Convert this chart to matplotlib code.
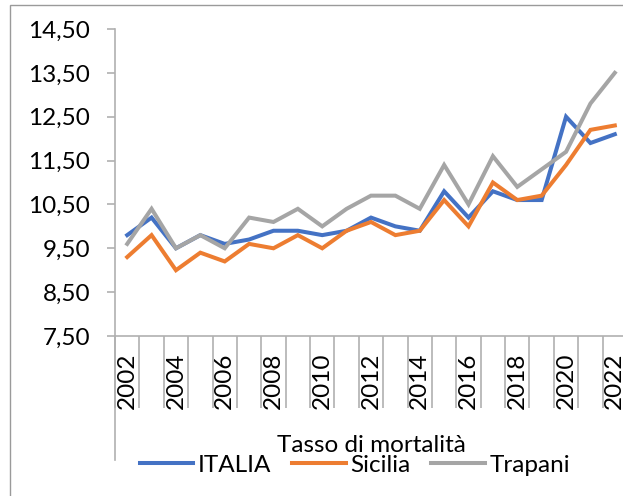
import matplotlib
matplotlib.use("Agg")
import matplotlib.pyplot as plt
from matplotlib.lines import Line2D
from matplotlib.patches import Rectangle
import numpy as np

years = list(range(2002, 2023))
italia = [9.8, 10.2, 9.5, 9.8, 9.6, 9.7, 9.9, 9.9, 9.8, 9.9, 10.2, 10.0, 9.9,
          10.8, 10.2, 10.8, 10.6, 10.6, 12.5, 11.9, 12.1]
sicilia = [9.3, 9.8, 9.0, 9.4, 9.2, 9.6, 9.5, 9.8, 9.5, 9.9, 10.1, 9.8, 9.9,
           10.6, 10.0, 11.0, 10.6, 10.7, 11.4, 12.2, 12.3]
trapani = [9.6, 10.4, 9.5, 9.8, 9.5, 10.2, 10.1, 10.4, 10.0, 10.4, 10.7, 10.7, 10.4,
           11.4, 10.5, 11.6, 10.9, 11.3, 11.7, 12.8, 13.5]
series_names = ["ITALIA", "Sicilia", "Trapani"]
colors = ["#4472C4", "#ED7D31", "#A5A5A5"]
yticks = [7.5, 8.5, 9.5, 10.5, 11.5, 12.5, 13.5, 14.5]
axis_title = "Tasso di mortalità"

plt.rcParams['font.family'] = ['Lato', 'DejaVu Sans']
FS = 17.5
W, H = 623, 496
fig = plt.figure(figsize=(W / 100, H / 100), dpi=100)

# outer chart border
fig.patches.append(Rectangle((10 / W, 0 - 0.02), 1.2, 1 - 5 / H + 0.02,
                             transform=fig.transFigure, fill=False,
                             edgecolor="#9A9A9A", linewidth=1.0))

left, right, top, bottom = 115, 627, 29, 336
ax = fig.add_axes([left / W, 1 - bottom / H, (right - left) / W, (bottom - top) / H])
ax.set_facecolor("none")

x = np.arange(len(years))
for vals, c, n in zip([italia, sicilia, trapani], colors, series_names):
    ax.plot(x, vals, color=c, lw=2.9, label=n, solid_joinstyle="miter", zorder=3)

ax.set_xlim(-0.5, len(years) - 0.5)
ax.set_ylim(7.5, 14.5)
ax.set_yticks(yticks)
ax.set_yticklabels([f"{v:.2f}".replace(".", ",") for v in yticks], fontsize=FS)

axcol = "#B0B0B0"
for s in ["top", "right"]:
    ax.spines[s].set_visible(False)
ax.spines["left"].set_color(axcol)
ax.spines["bottom"].set_color(axcol)
ax.spines["left"].set_linewidth(1.2)
ax.spines["bottom"].set_linewidth(1.2)
ax.tick_params(axis="y", length=5.8, width=1.2, color=axcol, pad=12, labelcolor="black")

# category labels
ax.set_xticks(x[::2])
ax.set_xticklabels([str(y) for y in years[::2]], rotation=90, fontsize=FS)
ax.tick_params(axis="x", which="major", length=0, pad=12)
ax.set_xticks(np.arange(-0.5, len(years), 1.0), minor=True)
ax.tick_params(axis="x", which="minor", length=52, width=1.2, color=axcol, direction="out")

# extension of vertical axis (multi-level category axis)
fig.lines.append(Line2D([left / W, left / W], [1 - bottom / H, 1 - 460 / H],
                        transform=fig.transFigure, color=axcol, lw=1.2))

fig.text(371 / W, 1 - 452 / H, axis_title, ha="center", va="baseline", fontsize=FS)

fig.legend(loc="center", bbox_to_anchor=(355 / W, 1 - 465 / H), ncol=3,
           frameon=False, fontsize=FS, handlelength=2.2, handletextpad=0.2,
           columnspacing=0.85, borderpad=0, borderaxespad=0)

fig.savefig("out.png", dpi=100)
